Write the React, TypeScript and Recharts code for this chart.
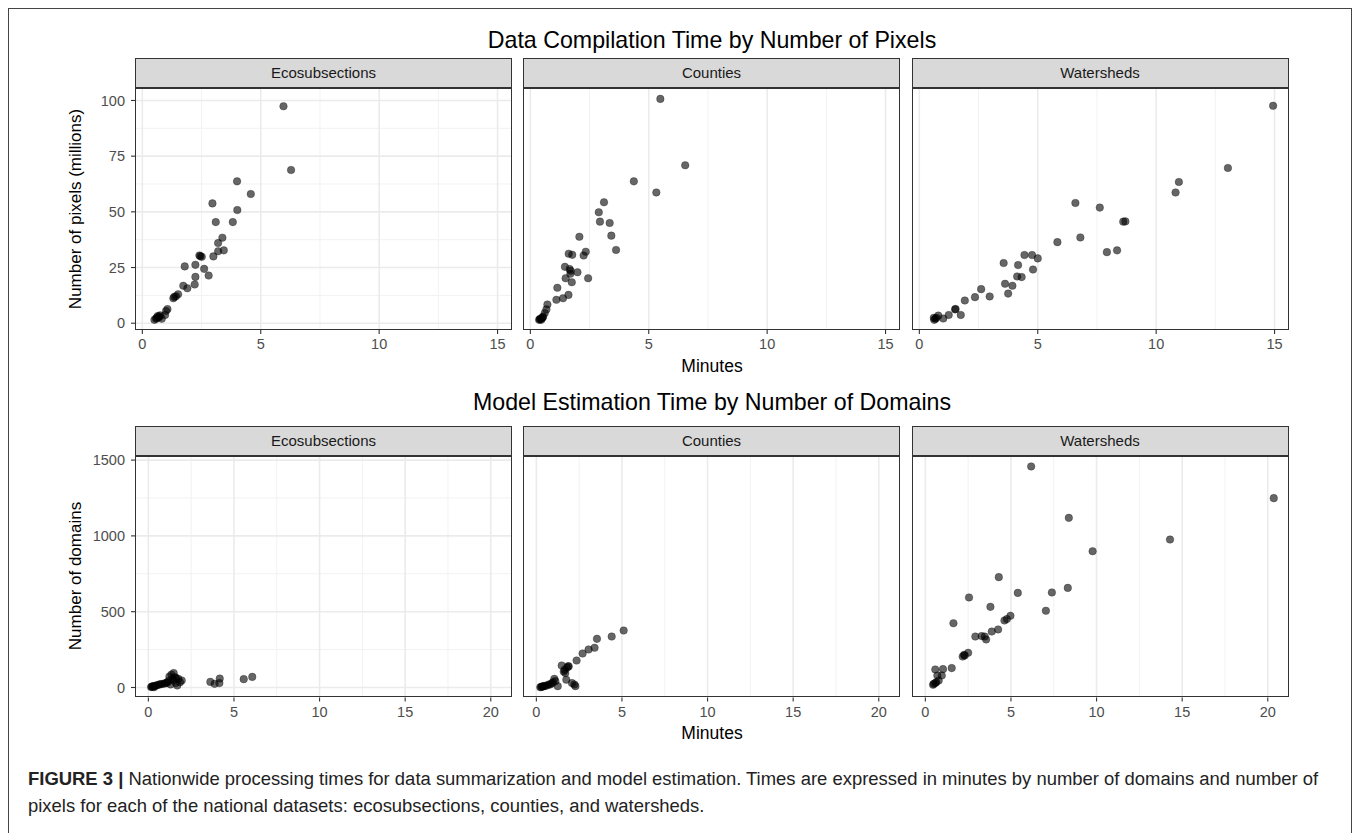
import { ScatterChart, Scatter, XAxis, YAxis, CartesianGrid } from 'recharts'

// [minutes, value]
const ecoPixels = [
  [5.96, 97.4], [6.28, 68.8], [4.0, 63.7], [4.58, 58.0], [2.96, 53.8], [4.01, 50.8], [3.1, 45.4], [3.82, 45.4],
  [3.38, 38.4], [3.2, 36.0], [3.2, 32.3], [3.44, 32.7], [3.0, 30.0], [2.41, 30.4], [2.51, 29.8], [1.79, 25.5],
  [2.24, 26.2], [2.61, 24.4], [2.8, 21.4], [2.24, 20.8], [2.21, 17.4], [1.73, 16.8], [1.9, 15.7], [1.51, 13.0],
  [1.42, 12.1], [1.31, 11.2], [1.06, 6.3], [1.0, 5.5], [0.96, 3.7], [0.75, 3.5], [0.65, 3.2], [0.82, 2.0],
  [0.58, 2.0], [0.51, 1.5], [0.69, 2.6], [0.6, 2.4], [0.72, 3.0], [1.35, 11.8], [2.45, 30.1],
]
const countyPixels = [
  [5.49, 100.7], [6.54, 70.9], [4.37, 63.7], [5.32, 58.7], [3.11, 54.3], [2.89, 49.8], [2.94, 45.6], [3.35, 45.0],
  [3.42, 39.3], [2.07, 38.8], [3.62, 32.9], [1.62, 31.2], [1.77, 30.7], [2.34, 32.1], [2.25, 30.4], [1.46, 25.3],
  [1.66, 24.3], [1.99, 22.9], [1.69, 22.2], [1.49, 20.2], [2.44, 20.2], [1.75, 18.4], [1.14, 15.9], [1.61, 12.7],
  [1.38, 11.2], [1.1, 10.5], [0.72, 8.4], [0.68, 6.2], [0.61, 4.6], [0.54, 3.0], [0.42, 2.0], [0.37, 1.5],
  [0.49, 2.2], [0.46, 1.5], [0.4, 1.8], [0.52, 2.6], [1.7, 23.5],
]
const watershedPixels = [
  [14.94, 97.6], [13.03, 69.7], [10.96, 63.4], [10.82, 58.7], [6.59, 54.0], [7.62, 51.9], [8.61, 45.6], [8.7, 45.7],
  [5.83, 36.4], [6.8, 38.5], [7.92, 31.9], [8.35, 32.7], [3.56, 27.0], [4.44, 30.6], [4.76, 30.6], [5.0, 29.1],
  [4.17, 26.1], [4.8, 24.1], [4.13, 21.0], [4.32, 20.7], [3.62, 17.7], [3.93, 16.8], [3.75, 13.3], [2.97, 12.0],
  [2.61, 15.3], [2.35, 11.7], [1.92, 10.2], [1.51, 6.2], [1.53, 6.4], [1.75, 3.7], [1.24, 3.7], [1.01, 2.1],
  [0.8, 3.4], [0.61, 2.4], [0.63, 1.5], [0.72, 2.4], [0.68, 2.0],
]
const ecoDomains = [
  [6.07, 70], [5.57, 55], [4.17, 59], [4.15, 29], [3.87, 24], [3.62, 37], [1.48, 95], [1.23, 73],
  [1.4, 57], [1.95, 46], [1.69, 13], [1.3, 20], [1.75, 57], [1.03, 29], [0.84, 24], [0.64, 20],
  [0.45, 13], [0.25, 7], [0.16, 3], [0.33, 2], [1.56, 68], [1.85, 35], [1.17, 42], [0.55, 16],
  [0.38, 10], [0.72, 22], [0.95, 26], [1.1, 33], [1.35, 85], [1.6, 30], [0.2, 5], [0.28, 9],
  [1.45, 48], [1.62, 62],
]
const countyDomains = [
  [5.1, 376], [4.4, 336], [3.54, 321], [3.4, 262], [3.05, 251], [2.7, 224], [2.35, 178], [1.48, 145],
  [1.89, 139], [1.65, 117], [1.69, 95], [1.75, 51], [2.08, 29], [2.28, 9], [2.22, 20], [1.25, 9],
  [1.05, 57], [0.97, 35], [0.82, 20], [0.62, 13], [0.43, 9], [0.23, 2], [0.33, 7], [0.72, 20],
  [1.11, 42], [1.79, 130], [0.28, 4], [0.38, 6], [0.52, 11], [0.9, 28], [1.85, 140], [1.6, 105],
]
const watershedDomains = [
  [6.18, 1458], [20.35, 1249], [8.38, 1119], [14.29, 976], [9.77, 899], [4.29, 728], [5.4, 624], [7.39, 627],
  [8.32, 657], [2.55, 594], [3.8, 532], [7.04, 506], [4.97, 473], [4.76, 451], [4.62, 442], [1.64, 424],
  [4.25, 383], [3.88, 369], [2.92, 336], [3.29, 339], [3.55, 317], [3.47, 336], [2.5, 229], [2.26, 215],
  [2.18, 204], [2.3, 211], [1.54, 128], [1.03, 121], [0.58, 119], [0.96, 79], [0.7, 79], [0.78, 46],
  [0.64, 35], [0.49, 24], [0.45, 18], [0.58, 29],
]

const facets = ['Ecosubsections', 'Counties', 'Watersheds']

const topXTicks = [0, 5, 10, 15]
const topXMinor = [2.5, 7.5, 12.5]
const topYTicks = [0, 25, 50, 75, 100]
const topYMinor = [12.5, 37.5, 62.5, 87.5]
const botXTicks = [0, 5, 10, 15, 20]
const botXMinor = [2.5, 7.5, 12.5, 17.5]
const botYTicks = [0, 500, 1000, 1500]
const botYMinor = [250, 750, 1250]

const FONT = '"Liberation Sans", Arial, Helvetica, sans-serif'
const PANEL_LEFT = [135, 523, 911.5]
const PANEL_W = 377
const YW = 50
const XH = 30
const PAD = 12

const toPts = (rows: number[][]) => rows.map(([m, v]) => ({ m, v }))

const Dot = (props: any) => (
  <circle cx={props.cx} cy={props.cy} r={3.8} fill="#000" fillOpacity={0.6} stroke="#000" strokeOpacity={0.45} strokeWidth={0.6} />
)

function Panel({ data, left, top, height, xDomain, xTicks, xMinor, yDomain, yTicks, yMinor, showY, label }: any) {
  const w = PANEL_W + YW
  const h = height + XH + PAD
  return (
    <>
      <div
        style={{
          position: 'absolute', left, top: top - 30, width: PANEL_W, height: 30, boxSizing: 'border-box',
          background: '#D9D9D9', border: '1px solid #333', fontFamily: FONT, fontSize: 15, color: '#1A1A1A',
          textAlign: 'center', lineHeight: '28px',
        }}
      >
        {label}
      </div>
      <div style={{ position: 'absolute', left: left - YW, top: top - PAD, width: w, height: h }}>
        <ScatterChart width={w} height={h} margin={{ top: PAD, right: 0, bottom: 0, left: 0 }}>
          <CartesianGrid horizontalValues={yMinor} verticalValues={xMinor} stroke="#F2F2F2" strokeWidth={1} />
          <CartesianGrid horizontalValues={yTicks} verticalValues={xTicks} stroke="#EBEBEB" strokeWidth={1.6} />
          <XAxis
            type="number" dataKey="m" domain={xDomain} ticks={xTicks} allowDataOverflow interval={0}
            height={XH} tickSize={4} tickMargin={5} axisLine={false}
            tickLine={{ stroke: '#333', strokeWidth: 1.1 }}
            tick={{ fill: '#4D4D4D', fontSize: 14.5, fontFamily: FONT }}
          />
          <YAxis
            type="number" dataKey="v" domain={yDomain} ticks={yTicks} allowDataOverflow interval={0}
            width={YW} tickSize={4} tickMargin={6} axisLine={false}
            tickLine={showY ? { stroke: '#333', strokeWidth: 1.1 } : false}
            tick={showY ? { fill: '#4D4D4D', fontSize: 14.5, fontFamily: FONT } : false}
          />
          <Scatter data={toPts(data)} isAnimationActive={false} shape={Dot} />
        </ScatterChart>
        <div
          style={{
            position: 'absolute', left: YW, top: PAD, width: PANEL_W, height, boxSizing: 'border-box',
            border: '1px solid #333', pointerEvents: 'none',
          }}
        />
      </div>
    </>
  )
}

const centered = (top: number, size: number, text: string) => (
  <div
    style={{
      position: 'absolute', left: 135, width: 1154, top: top - 15, height: 30, lineHeight: '30px',
      textAlign: 'center', fontFamily: FONT, fontSize: size, color: '#000', whiteSpace: 'nowrap',
    }}
  >
    {text}
  </div>
)

const yTitle = (cy: number, text: string) => (
  <div
    style={{
      position: 'absolute', left: 76, top: cy, transform: 'translate(-50%, -50%) rotate(-90deg)',
      fontFamily: FONT, fontSize: 17, color: '#000', whiteSpace: 'nowrap',
    }}
  >
    {text}
  </div>
)

export default function App() {
  const topData = [ecoPixels, countyPixels, watershedPixels]
  const botData = [ecoDomains, countyDomains, watershedDomains]
  return (
    <div style={{ position: 'absolute', left: 0, top: 0, width: 1358, height: 833, overflow: 'hidden', background: '#fff' }}>
      <div style={{ position: 'absolute', left: 8, top: 8, width: 1344, height: 840, boxSizing: 'border-box', border: '1px solid #444' }} />

      {centered(40, 23.2, 'Data Compilation Time by Number of Pixels')}
      {topData.map((d, i) => (
        <Panel
          key={'t' + i} data={d} left={PANEL_LEFT[i]} top={87.5} height={242} label={facets[i]}
          xDomain={[-0.31, 15.61]} xTicks={topXTicks} xMinor={topXMinor}
          yDomain={[-3.05, 105.6]} yTicks={topYTicks} yMinor={topYMinor} showY={i === 0}
        />
      ))}
      {yTitle(208.5, 'Number of pixels (millions)')}
      {centered(366, 17.5, 'Minutes')}

      {centered(402, 23.2, 'Model Estimation Time by Number of Domains')}
      {botData.map((d, i) => (
        <Panel
          key={'b' + i} data={d} left={PANEL_LEFT[i]} top={455.5} height={241.5} label={facets[i]}
          xDomain={[-0.78, 21.24]} xTicks={botXTicks} xMinor={botXMinor}
          yDomain={[-66, 1527]} yTicks={botYTicks} yMinor={botYMinor} showY={i === 0}
        />
      ))}
      {yTitle(576, 'Number of domains')}
      {centered(733, 17.5, 'Minutes')}

      <div style={{ position: 'absolute', left: 28, top: 765, fontFamily: FONT, fontSize: 18.45, color: '#222', lineHeight: '27px', whiteSpace: 'nowrap' }}>
        <div><b>FIGURE 3 |</b> Nationwide processing times for data summarization and model estimation. Times are expressed in minutes by number of domains and number of</div>
        <div>pixels for each of the national datasets: ecosubsections, counties, and watersheds.</div>
      </div>
    </div>
  )
}
